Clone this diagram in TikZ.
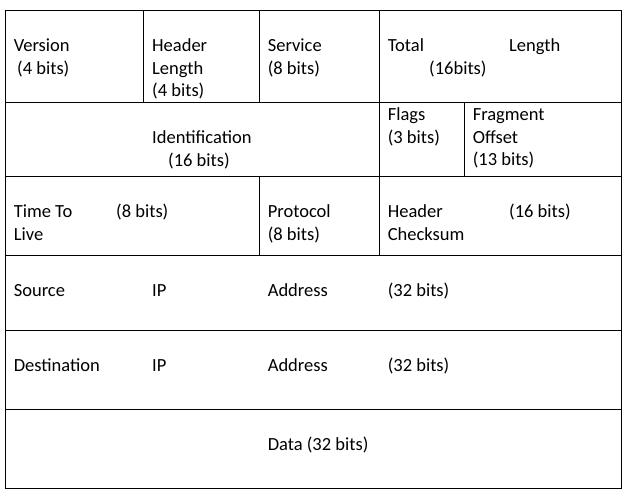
\documentclass[tikz,border=0pt]{standalone}
\usepackage{fontspec}
\setmainfont{Carlito}
\begin{document}
\begin{tikzpicture}[x=1pt,y=-1pt,line width=1pt,
    lbl/.style={anchor=base west,inner sep=0pt,align=left,yshift=-0.8pt,font=\fontsize{18.5}{22.7}\selectfont}]
  \useasboundingbox (0,0) rectangle (638,503);
  % frame and rows
  \draw (5.5,10.5) rectangle (621.5,488.5);
  \foreach \y in {102.5,176.5,255.5,330.5,409.5}
    \draw (5.5,\y) -- (621.5,\y);
  % column splits
  \draw (143.5,10.5) -- (143.5,102.5);
  \draw (259.5,10.5) -- (259.5,102.5) (259.5,176.5) -- (259.5,255.5);
  \draw (379.5,10.5) -- (379.5,255.5);
  \draw (464.5,102.5) -- (464.5,176.5);
  % first row (multi-line nodes sit on their last line)
  \node[lbl] (ver) at (13.3,50.7) {Version};
  \node[lbl] (verbits) at (16.7,73.4) {(4 bits)};
  \node[lbl] (hlen) at (151.7,96.1) {Header\\Length\\(4 bits)};
  \node[lbl] (svc) at (267.3,73.4) {Service\\(8 bits)};
  \node[lbl] (tot) at (387.3,50.7) {Total};
  \node[lbl] (totlen) at (508.7,50.7) {Length};
  \node[lbl] (totbits) at (428.7,73.4) {(16bits)};
  % second row
  \node[lbl] (ident) at (151.7,142.7) {Identification};
  \node[lbl] (identbits) at (167.7,165.4) {(16 bits)};
  \node[lbl] (flags) at (387.3,142.2) {Flags\\(3 bits)};
  \node[lbl] (frag) at (472.3,164.9) {Fragment\\Offset\\(13 bits)};
  % third row
  \node[lbl] (ttl) at (13.3,239.4) {Time To\\Live};
  \node[lbl] (ttlbits) at (115.7,216.7) {(8 bits)};
  \node[lbl] (proto) at (267.3,239.4) {Protocol\\(8 bits)};
  \node[lbl] (hcs) at (387.3,239.4) {Header\\Checksum};
  \node[lbl] (hcsbits) at (508.7,216.7) {(16 bits)};
  % addresses
  \node[lbl] (src) at (13.3,295.7) {Source};
  \node[lbl] (srcip) at (151.7,295.7) {IP};
  \node[lbl] (srcaddr) at (267.3,295.7) {Address};
  \node[lbl] (srcbits) at (387.3,295.7) {(32 bits)};
  \node[lbl] (dst) at (13.3,370.7) {Destination};
  \node[lbl] (dstip) at (151.7,370.7) {IP};
  \node[lbl] (dstaddr) at (267.3,370.7) {Address};
  \node[lbl] (dstbits) at (387.3,370.7) {(32 bits)};
  % data
  \node[lbl] (data) at (267.3,450) {Data (32 bits)};
\end{tikzpicture}
\end{document}
